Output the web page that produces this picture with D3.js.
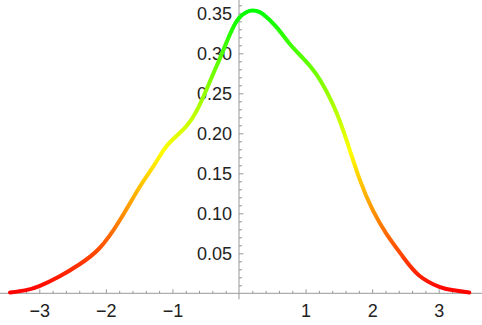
<!DOCTYPE html>
<html>
<head>
<meta charset="utf-8">
<script src="https://cdn.jsdelivr.net/npm/d3@7"></script>
<style>
  body { margin: 0; background: #fff; }
  .tick text { font-family: "Liberation Sans", Arial, sans-serif; font-size: 18px; fill: #222; }
</style>
</head>
<body>
<div id="chart"></div>
<script>
// density curve
var xs = [-3.44, -3.2, -3.0, -2.7, -2.4, -2.1, -1.8, -1.5, -1.3, -1.14, -1.0, -0.8, -0.6, -0.4, -0.29, -0.14,
          0, 0.16, 0.26, 0.36, 0.56, 0.76, 0.96, 1.16, 1.36, 1.56, 1.81, 2.01, 2.21, 2.46, 2.71, 3.01, 3.2, 3.46];
var ds = [0.001, 0.004, 0.009, 0.021, 0.036, 0.056, 0.090, 0.132, 0.157, 0.178, 0.192, 0.208, 0.234, 0.272, 0.293, 0.323,
          0.344, 0.353, 0.353, 0.349, 0.333, 0.312, 0.294, 0.274, 0.245, 0.205, 0.143, 0.104, 0.075, 0.046, 0.022, 0.008, 0.004, 0.001];
var xMajor = [-3, -2, -1, 1, 2, 3];
var yMajor = [0.05, 0.10, 0.15, 0.20, 0.25, 0.30, 0.35];

var width = 482, height = 325;
var x = d3.scaleLinear().domain([-3.47, 3.5]).range([8, 472]);
var y = d3.scaleLinear().domain([0, 0.365]).range([293.3, 1.3]);

var svg = d3.select("#chart").append("svg")
    .attr("width", width)
    .attr("height", height);

// colour follows the height of the curve: red -> yellow -> green
var dMin = d3.min(ds), dMax = d3.max(ds);
var grad = svg.append("defs").append("linearGradient")
    .attr("id", "hue")
    .attr("gradientUnits", "userSpaceOnUse")
    .attr("x1", 0).attr("x2", 0)
    .attr("y1", y(dMin)).attr("y2", y(dMax));
d3.range(0, 1.0001, 0.125).forEach(function (t) {
    grad.append("stop")
        .attr("offset", t)
        .attr("stop-color", d3.hsl(120 * t, 1, 0.5).toString());
});

var axisColor = "#999";
var minorX = d3.range(-3.4, 3.5, 0.2).filter(function (v) { return Math.abs(v - Math.round(v)) > 0.01; });
var minorY = d3.range(0.01, 0.361, 0.01).filter(function (v) { return Math.abs(v * 20 - Math.round(v * 20)) > 0.01; });

// x axis
var gx = svg.append("g").attr("transform", "translate(0," + y(0) + ")");
gx.append("g")
    .call(d3.axisBottom(x).tickValues(minorX).tickSize(-2.5).tickFormat(""));
gx.append("g")
    .call(d3.axisBottom(x).tickValues(xMajor).tickSize(-4).tickPadding(11)
        .tickFormat(function (d) { return d < 0 ? "\u2212" + (-d) : d; }));
gx.selectAll(".domain").remove();
gx.selectAll(".tick line").attr("stroke", axisColor);
gx.append("line")
    .attr("x1", 0).attr("x2", width)
    .attr("stroke", axisColor);

// y axis
var gy = svg.append("g").attr("transform", "translate(" + x(0) + ",0)");
gy.append("g")
    .call(d3.axisLeft(y).tickValues(minorY).tickSize(-3).tickFormat(""));
gy.append("g")
    .call(d3.axisLeft(y).tickValues(yMajor).tickSize(-4.5).tickPadding(7).tickFormat(d3.format(".2f")));
gy.selectAll(".domain").remove();
gy.selectAll(".tick line").attr("stroke", axisColor);
gy.append("line")
    .attr("y1", 0).attr("y2", y(0) + 6)
    .attr("stroke", axisColor);

// curve
var pts = xs.map(function (v, i) { return [v, ds[i]]; });
var line = d3.line()
    .x(function (d) { return x(d[0]); })
    .y(function (d) { return y(d[1]); })
    .curve(d3.curveNatural);
svg.append("path")
    .datum(pts)
    .attr("d", line)
    .attr("fill", "none")
    .attr("stroke", "url(#hue)")
    .attr("stroke-width", 4)
    .attr("stroke-linecap", "round");
</script>
</body>
</html>
